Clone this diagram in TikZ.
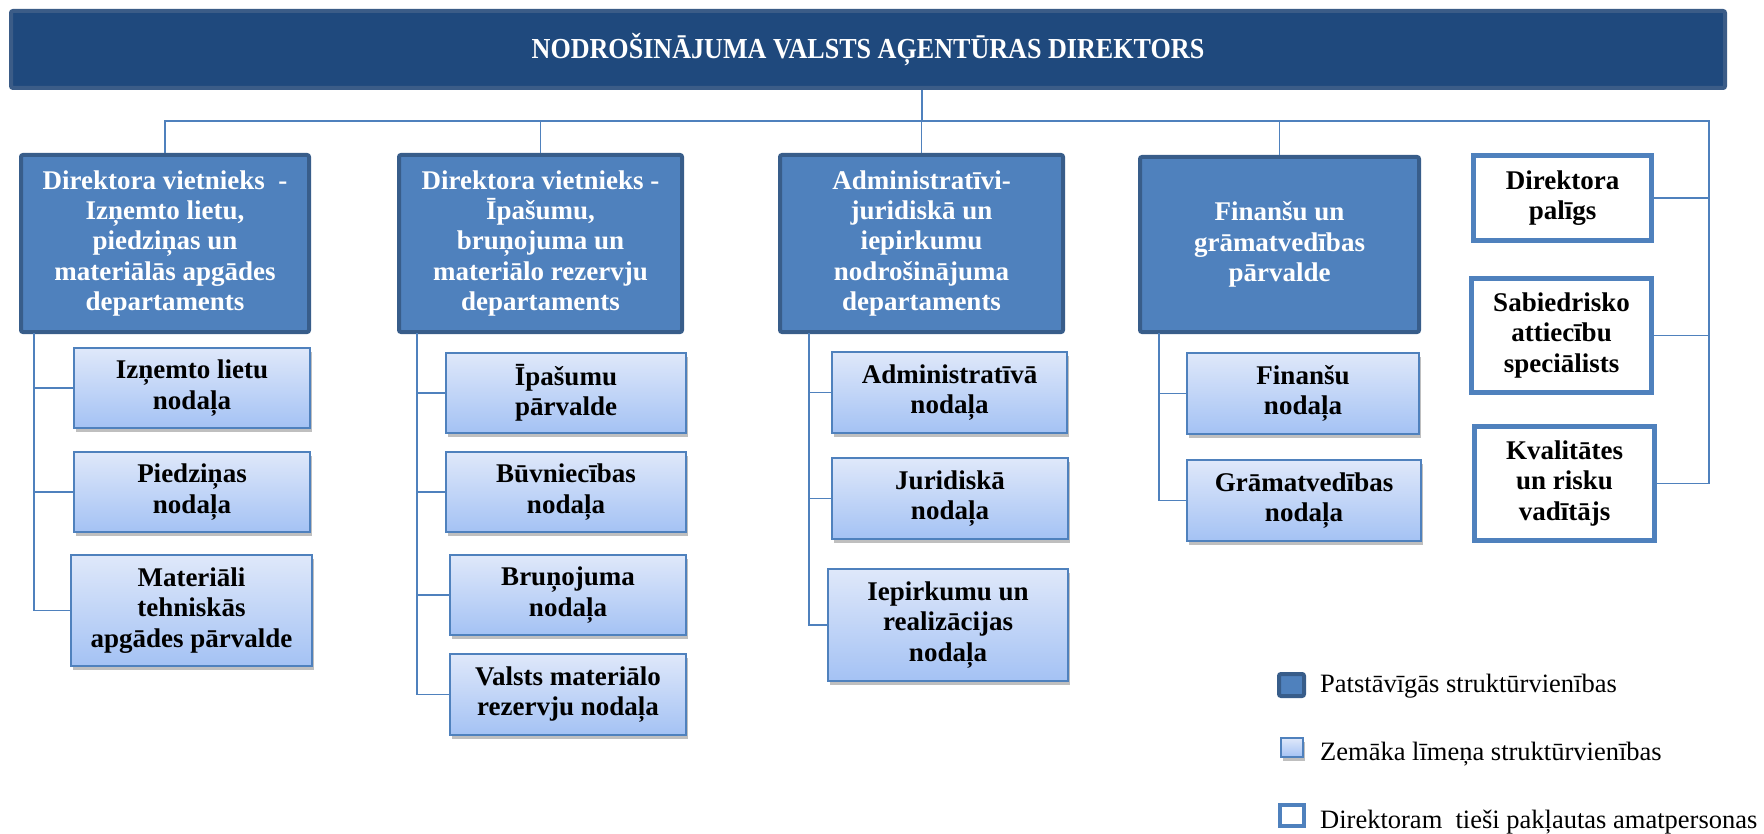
\documentclass[tikz,border=0pt]{standalone}
\usepackage{fontspec}
\setmainfont{Liberation Serif}
\newfontfamily\titlefont{Liberation Serif}[FakeStretch=0.9]
\newfontfamily\legfont{Liberation Serif}
\usetikzlibrary{shadows}
\definecolor{topfill}{HTML}{1F497D}
\definecolor{topdraw}{HTML}{3B5C87}
\definecolor{deptfill}{HTML}{4F81BD}
\definecolor{deptdraw}{HTML}{385D8A}
\definecolor{lighttop}{HTML}{DFE8FA}
\definecolor{lightbot}{HTML}{A4C2F4}
\definecolor{lineblue}{HTML}{4F81BD}
\newcommand\boxfont{\fontsize{27}{30.4}\selectfont\bfseries}
\begin{document}
\begin{tikzpicture}[x=1pt,y=-1pt,
  link/.style={draw=lineblue, line width=1.6pt},
  topbox/.style={rectangle, rounded corners=2pt, fill=topfill, draw=topdraw, line width=4pt, text=white, font=\titlefont\fontsize{29}{30}\selectfont\bfseries, inner sep=0pt},
  deptbox/.style={rectangle, rounded corners=2pt, fill=deptfill, draw=deptdraw, line width=4pt, text=white, font=\boxfont, align=center, inner sep=0pt},
  subbox/.style={rectangle, draw=lineblue, line width=1.8pt, top color=lighttop, bottom color=lightbot, drop shadow={shadow xshift=1.5pt, shadow yshift=-4pt, fill=black, opacity=0.25}, font=\boxfont, align=center, inner sep=0pt},
  persbox/.style={rectangle, draw=lineblue, line width=5pt, fill=white, font=\boxfont, align=center, inner sep=0pt},
  legtext/.style={anchor=base west, font=\legfont\fontsize{26.5}{28}\selectfont, inner sep=0pt}]
\useasboundingbox[fill=white] (0,0) rectangle (1764,834);

% director
\node[topbox, minimum width=1714pt, minimum height=77pt] (top) at (868,49.5) {NODROŠINĀJUMA VALSTS AĢENTŪRAS DIREKTORS};

% departments
\node[deptbox, minimum width=288pt, minimum height=177pt] (d1) at (165,243.5) {Direktora vietnieks~~-\\Izņemto lietu,\\piedziņas un\\materiālās apgādes\\departaments};
\node[deptbox, minimum width=283pt, minimum height=177pt] (d2) at (540.5,243.5) {Direktora vietnieks -\\Īpašumu,\\bruņojuma un\\materiālo rezervju\\departaments};
\node[deptbox, minimum width=283pt, minimum height=177pt] (d3) at (921.5,243.5) {Administratīvi-\\juridiskā un\\iepirkumu\\nodrošinājuma\\departaments};
\node[deptbox, minimum width=279pt, minimum height=175pt] (d4) at (1279.5,244.5) {Finanšu un\\grāmatvedības\\pārvalde};

% sub units
\node[subbox, minimum width=236pt, minimum height=80pt] (c11) at (192,388) {Izņemto lietu\\nodaļa};
\node[subbox, minimum width=236pt, minimum height=80pt] (c12) at (192,492) {Piedziņas\\nodaļa};
\node[subbox, minimum width=241pt, minimum height=111pt] (c13) at (191.5,610.5) {Materiāli\\tehniskās\\apgādes pārvalde};

\node[subbox, minimum width=240pt, minimum height=80pt] (c21) at (566,393) {Īpašumu\\pārvalde};
\node[subbox, minimum width=240pt, minimum height=80pt] (c22) at (566,492) {Būvniecības\\nodaļa};
\node[subbox, minimum width=236pt, minimum height=80pt] (c23) at (568,595) {Bruņojuma\\nodaļa};
\node[subbox, minimum width=236pt, minimum height=81pt] (c24) at (568,694.5) {Valsts materiālo\\rezervju nodaļa};

\node[subbox, minimum width=235pt, minimum height=81pt] (c31) at (949.5,392.5) {Administratīvā\\nodaļa};
\node[subbox, minimum width=236pt, minimum height=81pt] (c32) at (950,498.5) {Juridiskā\\nodaļa};
\node[subbox, minimum width=240pt, minimum height=112pt] (c33) at (948,625) {Iepirkumu un\\realizācijas\\nodaļa};

\node[subbox, minimum width=232pt, minimum height=81pt] (c41) at (1303,393.5) {Finanšu\\nodaļa};
\node[subbox, minimum width=234pt, minimum height=81pt] (c42) at (1304,500.5) {Grāmatvedības\\nodaļa};

% officials
\node[persbox, minimum width=178pt, minimum height=85pt] (r1) at (1562.5,198) {Direktora\\palīgs};
\node[persbox, minimum width=180pt, minimum height=114pt] (r2) at (1561.5,335.5) {Sabiedrisko\\attiecību\\speciālists};
\node[persbox, minimum width=180pt, minimum height=114pt] (r3) at (1564.5,483.5) {Kvalitātes\\un risku\\vadītājs};

% connectors from director
\coordinate (bus) at (922,121);
\coordinate (rail) at (1709,121);
\draw[link] (top.south -| bus) -- (bus);
\draw[link] (d1.north) |- (rail) |- (r3.east);
\draw[link] (d2.north) -- (d2.north |- bus);
\draw[link] (d3.north) -- (d3.north |- bus);
\draw[link] (d4.north) -- (d4.north |- bus);
\draw[link] (r1.east) -- (r1.east -| rail);
\draw[link] (r2.east) -- (r2.east -| rail);

% connectors to sub units
\coordinate (a1) at (34,333);
\coordinate (a2) at (417,333);
\coordinate (a3) at (809,333);
\coordinate (a4) at (1159,333);
\draw[link] (a1) |- (c13.west);
\draw[link] (c11.west) -- (c11.west -| a1);
\draw[link] (c12.west) -- (c12.west -| a1);
\draw[link] (a2) |- (c24.west);
\draw[link] (c21.west) -- (c21.west -| a2);
\draw[link] (c22.west) -- (c22.west -| a2);
\draw[link] (c23.west) -- (c23.west -| a2);
\draw[link] (a3) |- (c33.west);
\draw[link] (c31.west) -- (c31.west -| a3);
\draw[link] (c32.west) -- (c32.west -| a3);
\draw[link] (a4) |- (c42.west);
\draw[link] (c41.west) -- (c41.west -| a4);

% legend
\node[deptbox, minimum width=25pt, minimum height=22pt] (l1) at (1291.5,685) {};
\node[subbox, line width=1.5pt, minimum width=22pt, minimum height=19pt] (l2) at (1292,747.5) {};
\node[persbox, line width=4pt, minimum width=24pt, minimum height=21pt] (l3) at (1292,815.5) {};
\node[legtext] (t1) at (1320,692) {Patstāvīgās struktūrvienības};
\node[legtext] (t2) at (1320,760) {Zemāka līmeņa struktūrvienības};
\node[legtext] (t3) at (1320,828) {Direktoram~~tieši pakļautas amatpersonas};
\end{tikzpicture}
\end{document}
